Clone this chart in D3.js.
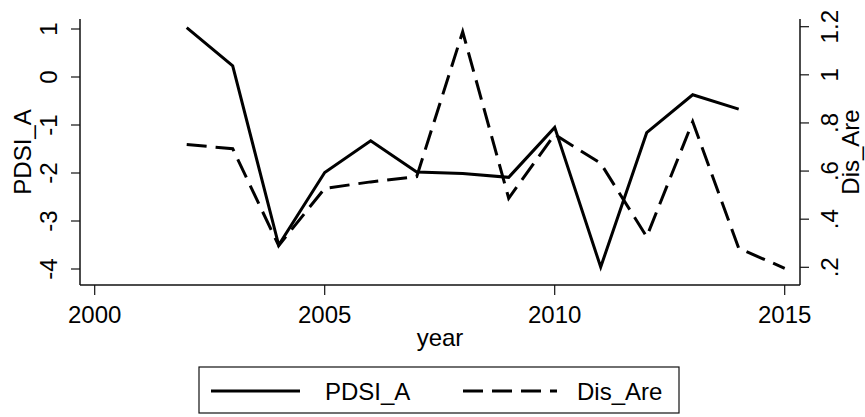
<!DOCTYPE html>
<html>
<head>
<meta charset="utf-8">
<script src="https://cdn.jsdelivr.net/npm/d3@7"></script>
<style>
  body { margin: 0; background: #fff; }
  svg { display: block; font-family: "Liberation Sans", Arial, sans-serif; }
</style>
</head>
<body>
<svg id="chart" width="865" height="417"></svg>
<script>
const years = [2002, 2003, 2004, 2005, 2006, 2007, 2008, 2009, 2010, 2011, 2012, 2013, 2014, 2015];
const pdsiA = [1.03, 0.23, -3.5, -1.99, -1.33, -1.98, -2.01, -2.09, -1.05, -3.96, -1.16, -0.37, -0.67, null];
const disAre = [0.71, 0.693, 0.29, 0.528, 0.555, 0.577, 1.179, 0.487, 0.752, 0.632, 0.327, 0.805, 0.279, 0.196];
const xTicks = [2000, 2005, 2010, 2015];
const leftTicks = [-4, -3, -2, -1, 0, 1];
const rightTicks = [0.2, 0.4, 0.6, 0.8, 1, 1.2];

const svg = d3.select("#chart");
const x = d3.scaleLinear().domain([2000, 2015]).range([94.7, 784.7]);
const yL = d3.scaleLinear().domain([-4, 1]).range([269, 29]);
const yR = d3.scaleLinear().domain([0.2, 1.2]).range([267.3, 26.7]);
const plotLeft = 80, plotRight = 800, plotTop = 19, plotBottom = 285;
const fs = 24;

// axes lines
svg.append("line").attr("x1", plotLeft).attr("x2", plotLeft).attr("y1", plotTop).attr("y2", plotBottom)
  .attr("stroke", "#111").attr("stroke-width", 1.5);
svg.append("line").attr("x1", plotRight).attr("x2", plotRight).attr("y1", plotTop).attr("y2", plotBottom)
  .attr("stroke", "#111").attr("stroke-width", 1.5);
svg.append("line").attr("x1", plotLeft).attr("x2", plotRight).attr("y1", plotBottom).attr("y2", plotBottom)
  .attr("stroke", "#111").attr("stroke-width", 1.5);

// x ticks
const xg = svg.append("g");
xTicks.forEach(t => {
  xg.append("line").attr("x1", x(t)).attr("x2", x(t)).attr("y1", plotBottom).attr("y2", plotBottom + 10)
    .attr("stroke", "#111").attr("stroke-width", 1.2);
  xg.append("text").attr("x", x(t)).attr("y", 323).attr("text-anchor", "middle")
    .attr("font-size", fs).text(t);
});
svg.append("text").attr("x", (plotLeft + plotRight) / 2).attr("y", 346).attr("text-anchor", "middle")
  .attr("font-size", fs).text("year");

// left ticks
leftTicks.forEach(t => {
  svg.append("line").attr("x1", plotLeft - 9).attr("x2", plotLeft).attr("y1", yL(t)).attr("y2", yL(t))
    .attr("stroke", "#111").attr("stroke-width", 1.2);
  svg.append("text").attr("transform", `translate(57,${yL(t)}) rotate(-90)`)
    .attr("text-anchor", "middle").attr("font-size", fs).text(t);
});
svg.append("text").attr("transform", `translate(31,${(plotTop + plotBottom) / 2}) rotate(-90)`)
  .attr("text-anchor", "middle").attr("font-size", fs).text("PDSI_A");

// right ticks (Stata style: ".2", "1", "1.2")
const fmtR = d => d3.format("~g")(d).replace(/^0\./, ".");
rightTicks.forEach(t => {
  svg.append("line").attr("x1", plotRight).attr("x2", plotRight + 9).attr("y1", yR(t)).attr("y2", yR(t))
    .attr("stroke", "#111").attr("stroke-width", 1.2);
  svg.append("text").attr("transform", `translate(838,${yR(t)}) rotate(-90)`)
    .attr("text-anchor", "middle").attr("font-size", fs).text(fmtR(t));
});
svg.append("text").attr("transform", `translate(859,${(plotTop + plotBottom) / 2}) rotate(-90)`)
  .attr("text-anchor", "middle").attr("font-size", fs).text("Dis_Are");

// series
const lineL = d3.line().defined(d => d[1] != null).x(d => x(d[0])).y(d => yL(d[1]));
const lineR = d3.line().defined(d => d[1] != null).x(d => x(d[0])).y(d => yR(d[1]));
svg.append("path").datum(years.map((yr, i) => [yr, disAre[i]])).attr("d", lineR)
  .attr("fill", "none").attr("stroke", "#000").attr("stroke-width", 3).attr("stroke-dasharray", "20,9");
svg.append("path").datum(years.map((yr, i) => [yr, pdsiA[i]])).attr("d", lineL)
  .attr("fill", "none").attr("stroke", "#000").attr("stroke-width", 3);

// legend
const lg = svg.append("g");
lg.append("rect").attr("x", 199).attr("y", 367).attr("width", 480).attr("height", 46)
  .attr("fill", "#fff").attr("stroke", "#111").attr("stroke-width", 1.2);
lg.append("line").attr("x1", 211).attr("x2", 300).attr("y1", 391).attr("y2", 391)
  .attr("stroke", "#000").attr("stroke-width", 3);
lg.append("text").attr("x", 325).attr("y", 400).attr("font-size", fs).text("PDSI_A");
lg.append("line").attr("x1", 463).attr("x2", 557).attr("y1", 391).attr("y2", 391)
  .attr("stroke", "#000").attr("stroke-width", 3).attr("stroke-dasharray", "20,9");
lg.append("text").attr("x", 577).attr("y", 400).attr("font-size", fs).text("Dis_Are");
</script>
</body>
</html>
